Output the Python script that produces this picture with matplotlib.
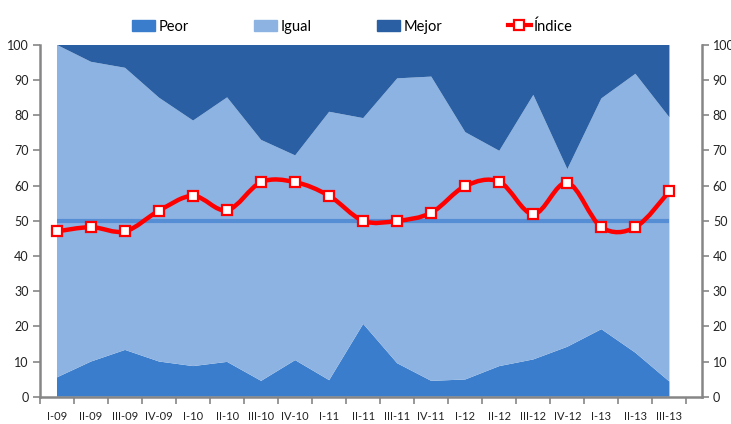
import numpy as np
import matplotlib
matplotlib.use("Agg")
import matplotlib.pyplot as plt
from matplotlib.path import Path
from matplotlib.patches import PathPatch, Patch
from matplotlib.lines import Line2D

plt.rcParams['font.family'] = ['Lato', 'DejaVu Sans']

# quarters
trimestres = ['I-09', 'II-09', 'III-09', 'IV-09', 'I-10', 'II-10', 'III-10', 'IV-10',
              'I-11', 'II-11', 'III-11', 'IV-11', 'I-12', 'II-12', 'III-12', 'IV-12',
              'I-13', 'II-13', 'III-13']

# shares (%)
peor = [5.5, 10.0, 13.3, 10.0, 8.7, 9.9, 4.5, 10.4, 4.7, 20.7,
        9.5, 4.5, 4.9, 8.7, 10.6, 14.2, 19.2, 12.5, 4.3]
peor_mas_igual = [100.0, 95.2, 93.5, 85.0, 78.5, 85.1, 73.0, 68.6, 81.0, 79.2,
                  90.5, 91.0, 75.2, 69.9, 85.8, 64.7, 84.8, 91.8, 79.4]
igual = [t - p for t, p in zip(peor_mas_igual, peor)]
mejor = [100.0 - t for t in peor_mas_igual]

indice = [47.0, 48.2, 47.0, 52.9, 57.1, 53.0, 61.0, 61.0, 57.1, 50.0,
          50.0, 52.3, 59.9, 61.1, 51.9, 60.8, 48.2, 48.2, 58.4]
referencia = 50

c_peor = '#3A7DCC'
c_igual = '#8DB3E2'
c_mejor = '#2A60A3'
gris = '#868686'


def smooth_path(xs, ys):
    # excel-like smoothed line as cubic bezier segments
    n = len(xs)
    verts = [(xs[0], ys[0])]
    codes = [Path.MOVETO]
    for i in range(n - 1):
        a = i - 1 if i > 0 else i
        d = i + 2 if i + 2 < n else i + 1
        c1 = (xs[i] + (xs[i + 1] - xs[a]) / 6, ys[i] + (ys[i + 1] - ys[a]) / 6)
        c2 = (xs[i + 1] - (xs[d] - xs[i]) / 6, ys[i + 1] - (ys[d] - ys[i]) / 6)
        verts += [c1, c2, (xs[i + 1], ys[i + 1])]
        codes += [Path.CURVE4] * 3
    return Path(verts, codes)


x = np.arange(len(trimestres))

fig = plt.figure(figsize=(7.31, 4.24), dpi=100)
ax = fig.add_axes([0.0547, 0.0644, 0.9053, 0.8296])

ax.stackplot(x, peor, igual, mejor, colors=[c_peor, c_igual, c_mejor], linewidth=0)
ax.plot(x, np.full(len(x), referencia), color='#558ED5', lw=3, solid_capstyle='butt', zorder=3)
ax.add_patch(PathPatch(smooth_path(x, indice), fill=False, edgecolor='#FF0000', lw=3.2, zorder=4))
ax.plot(x, indice, 's', ms=7, mfc='white', mec='#FF0000', mew=1.6, zorder=5)

ax.set_xlim(-0.5, 18.95)
ax.set_ylim(0, 100)
ax.set_yticks(np.arange(0, 101, 10))
ax.set_xticks(x)
ax.set_xticklabels(trimestres, fontsize=8, color='#222222')
ax.set_xticks(np.arange(-0.5, len(x), 1), minor=True)
ax.tick_params(axis='x', which='major', length=0, pad=10)
ax.tick_params(axis='x', which='minor', length=5, color=gris, width=1.2)
ax.tick_params(axis='y', which='major', left=True, right=True, labelleft=True, labelright=True,
               length=5, color=gris, width=1.2, labelsize=9, labelcolor='#222222', pad=3)

ax.spines['top'].set_visible(False)
for s in ['left', 'right', 'bottom']:
    ax.spines[s].set_color(gris)
    ax.spines[s].set_linewidth(1.8)

handles = [Patch(color=c_peor), Patch(color=c_igual), Patch(color=c_mejor),
           Line2D([], [], color='#FF0000', lw=3, marker='s', ms=7, mfc='white', mec='#FF0000', mew=1.6)]
fig.legend(handles, ['Peor', 'Igual', 'Mejor', 'Índice'], loc='center', ncol=4,
           bbox_to_anchor=(0.482, 0.938), frameon=False, fontsize=10.5,
           handlelength=1.6, handletextpad=0.2, columnspacing=4.5)

fig.savefig('out.png', dpi=100)
